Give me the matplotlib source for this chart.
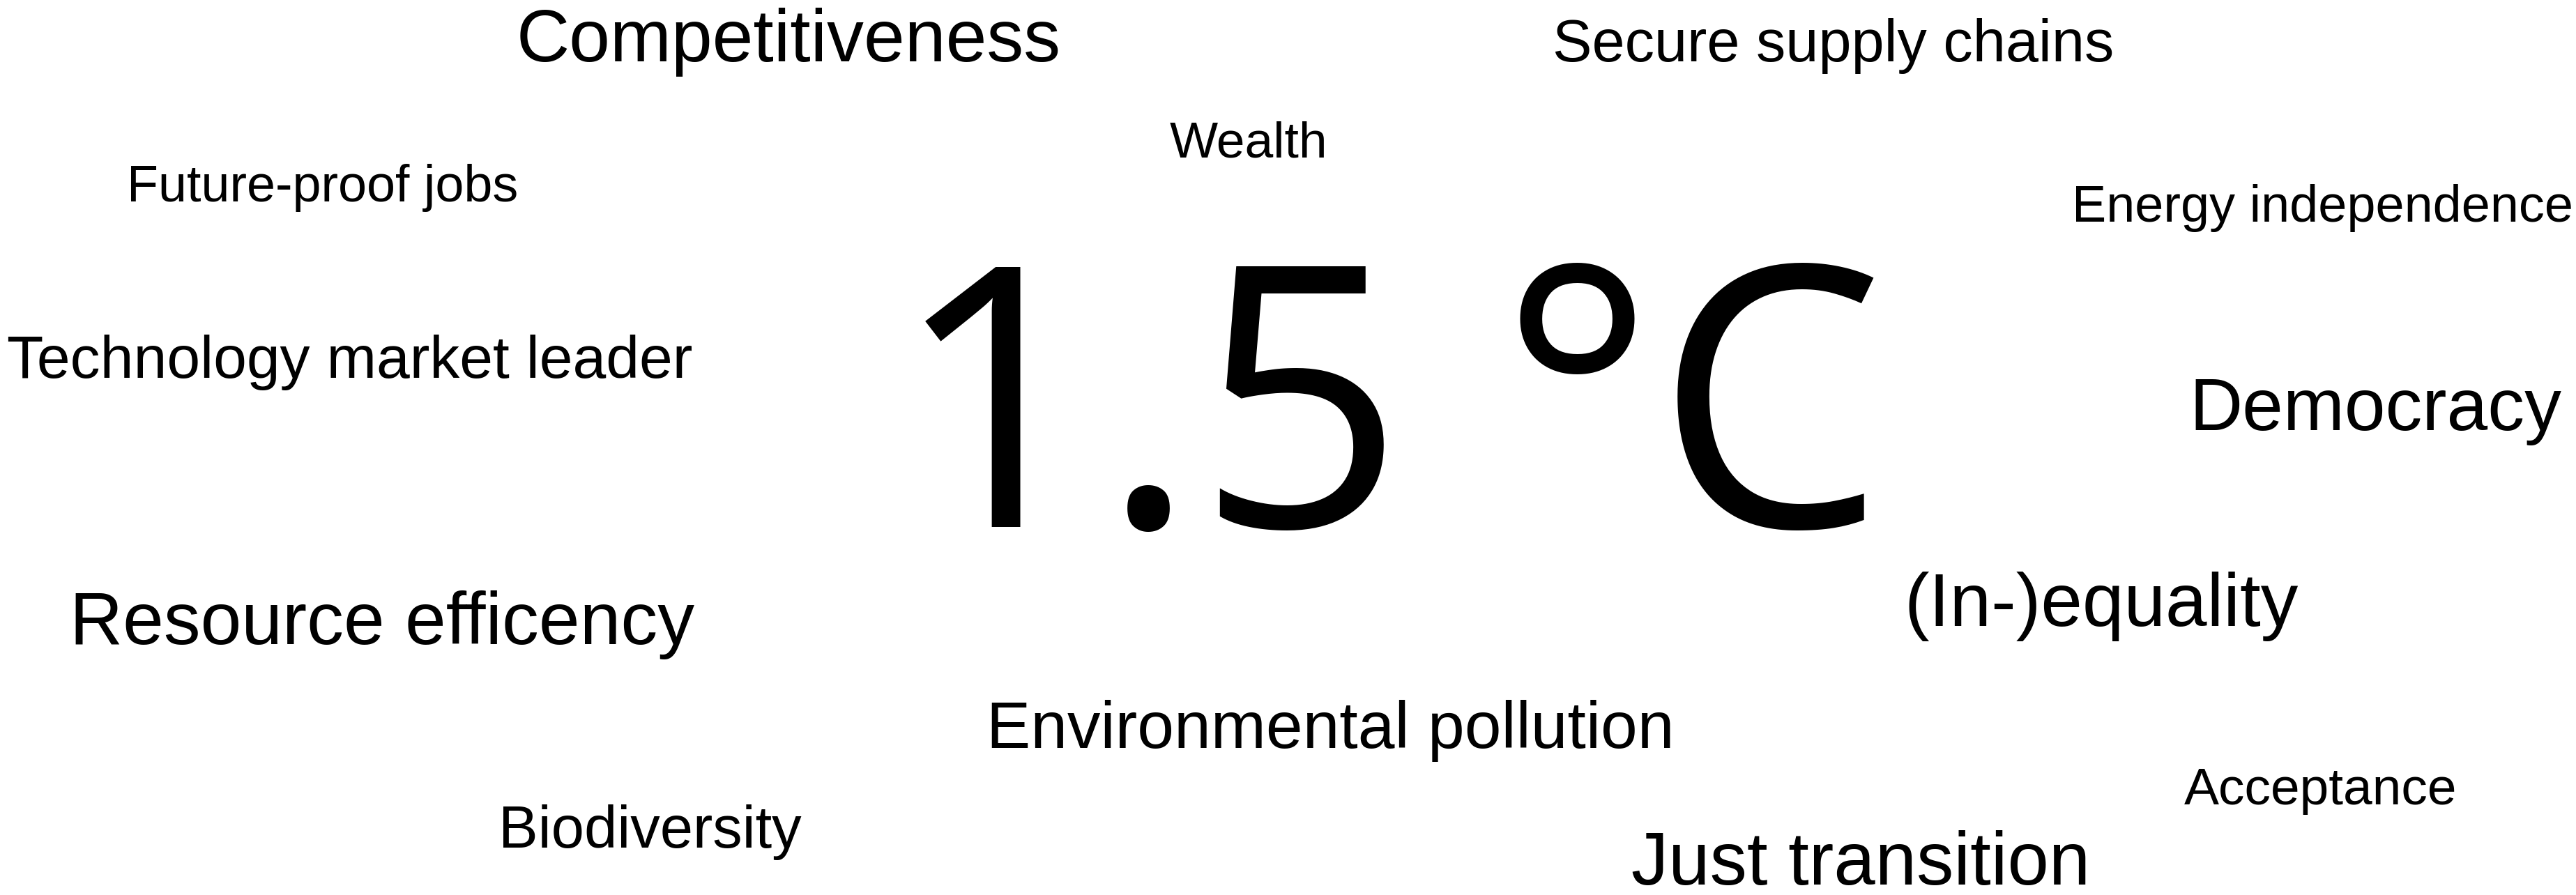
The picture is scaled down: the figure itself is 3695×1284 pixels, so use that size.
import matplotlib.pyplot as plt

# Words of the cloud
words = ["Competitiveness", "Secure supply chains", "Wealth", "Future-proof jobs",
         "Energy independence", "Technology market leader", "Democracy",
         "Resource efficency", "(In-)equality", "Environmental pollution",
         "Acceptance", "Biodiversity", "Just transition"]
center_word = "1.5 °C"

# Layout: left edge, right edge, baseline (px)
x_left = [741, 2227, 1678, 182, 2972, 10, 3140, 100, 2731, 1415, 3133, 715, 2340]
x_right = [1523, 3033, 1905, 744, 3692, 994, 3675, 997, 3297, 2402, 3526, 1150, 2999]
y_base = [88, 88, 226, 289, 318, 542, 617, 924, 898, 1073, 1154, 1216, 1269]

W, H = 3695, 1284
fig = plt.figure(figsize=(W / 100, H / 100), dpi=100)
ax = fig.add_axes([0, 0, 1, 1])
ax.set_xlim(0, W)
ax.set_ylim(H, 0)
ax.axis("off")

fig.canvas.draw()
r = fig.canvas.get_renderer()

# size each word so it spans its measured width
for w, x0, x1, yb in zip(words, x_left, x_right, y_base):
    t = ax.text(x0, yb, w, fontsize=50, family=["Liberation Sans", "DejaVu Sans"],
                ha="left", va="baseline", color="black")
    bb = t.get_window_extent(r)
    t.set_fontsize(50 * (x1 - x0) / bb.width)

# big centre label
t = ax.text(1280, 756, center_word, fontsize=100, family="Open Sans",
            ha="left", va="baseline", color="black")
bb = t.get_window_extent(r)
t.set_fontsize(100 * (2703 - 1280) / bb.width)

fig.savefig("out.png", dpi=100, facecolor="white")
